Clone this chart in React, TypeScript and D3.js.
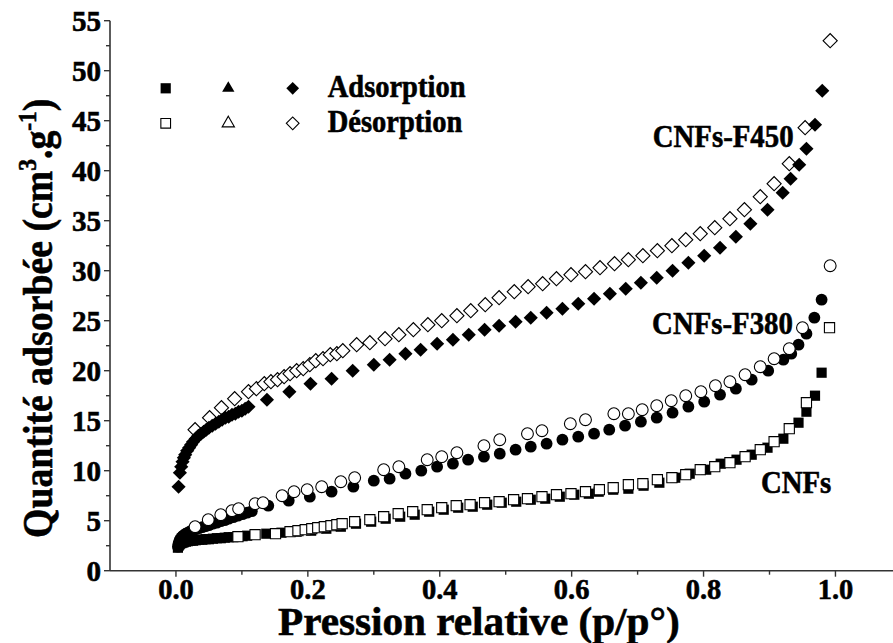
import * as d3 from "d3";

// CNFs (squares)
const cnfAdsX = [0.003, 0.004, 0.005, 0.006, 0.008, 0.010, 0.012, 0.015, 0.018, 0.022, 0.026, 0.030, 0.035, 0.040, 0.045, 0.050, 0.056, 0.062, 0.068, 0.074, 0.080, 0.087, 0.094, 0.101, 0.108,
  0.137, 0.160, 0.183, 0.205, 0.228, 0.250, 0.273, 0.296, 0.318, 0.340, 0.362, 0.384, 0.406, 0.428, 0.450, 0.472, 0.494, 0.516, 0.538, 0.560, 0.582, 0.604, 0.626, 0.641, 0.663, 0.686, 0.709, 0.733, 0.757, 0.779, 0.804, 0.826, 0.850, 0.873, 0.897, 0.921, 0.944, 0.956, 0.969, 0.979];
const cnfAdsY = [2.3, 2.5, 2.6, 2.7, 2.75, 2.8, 2.85, 2.9, 2.95, 3.0, 3.0, 3.05, 3.1, 3.1, 3.15, 3.15, 3.2, 3.25, 3.25, 3.3, 3.35, 3.35, 3.4, 3.45, 3.5,
  3.7, 3.8, 3.9, 4.0, 4.2, 4.4, 4.7, 4.9, 5.2, 5.4, 5.6, 5.9, 6.1, 6.3, 6.4, 6.6, 6.8, 6.9, 7.1, 7.2, 7.4, 7.6, 7.7, 7.9, 8.1, 8.2, 8.5, 8.8, 9.3, 9.7, 10.1, 10.7, 11.1, 11.6, 12.3, 13.2, 14.8, 15.9, 17.5, 19.8];
const cnfDesX = [0.094, 0.120, 0.151, 0.173, 0.185, 0.196, 0.206, 0.215, 0.225, 0.235, 0.244, 0.252, 0.271, 0.294, 0.315, 0.337, 0.359, 0.381, 0.403, 0.425, 0.446, 0.468, 0.490, 0.512, 0.533, 0.555, 0.577, 0.599, 0.621, 0.642, 0.663, 0.686, 0.708, 0.730, 0.752, 0.773, 0.795, 0.817, 0.840, 0.863, 0.886, 0.907, 0.930, 0.956, 0.991];
const cnfDesY = [3.4, 3.6, 3.7, 3.9, 4.0, 4.1, 4.2, 4.3, 4.4, 4.5, 4.6, 4.7, 4.9, 5.1, 5.4, 5.7, 5.9, 6.1, 6.3, 6.5, 6.6, 6.8, 6.9, 7.1, 7.2, 7.4, 7.6, 7.7, 7.9, 8.1, 8.3, 8.6, 8.7, 9.1, 9.3, 9.6, 10.1, 10.4, 10.8, 11.4, 12.1, 12.9, 14.2, 16.8, 24.3];

// CNFs-F380 (circles)
const f380AdsX = [0.003, 0.004, 0.005, 0.006, 0.008, 0.010, 0.012, 0.015, 0.018, 0.022, 0.026, 0.030, 0.035, 0.040, 0.045, 0.050, 0.056, 0.062, 0.068, 0.074, 0.080, 0.087, 0.094, 0.101, 0.108, 0.115,
  0.140, 0.171, 0.203, 0.236, 0.269, 0.300, 0.324, 0.348, 0.372, 0.396, 0.420, 0.443, 0.467, 0.491, 0.515, 0.538, 0.562, 0.586, 0.610, 0.634, 0.657, 0.681, 0.705, 0.729, 0.753, 0.777, 0.801, 0.825, 0.849, 0.873, 0.898, 0.921, 0.933, 0.944, 0.956, 0.968, 0.979];
const f380AdsY = [2.4, 2.7, 2.9, 3.1, 3.3, 3.45, 3.55, 3.7, 3.8, 3.95, 4.05, 4.15, 4.25, 4.35, 4.45, 4.55, 4.7, 4.8, 4.95, 5.05, 5.2, 5.35, 5.5, 5.65, 5.8, 5.95,
  6.5, 7.0, 7.4, 7.9, 8.4, 9.0, 9.2, 9.7, 10.0, 10.4, 10.7, 11.1, 11.4, 11.7, 12.1, 12.4, 12.7, 13.1, 13.4, 13.7, 14.1, 14.5, 14.9, 15.3, 15.8, 16.4, 16.9, 17.6, 18.2, 19.1, 20.0, 21.1, 21.7, 22.6, 23.7, 25.3, 27.1];
const f380DesX = [0.029, 0.049, 0.068, 0.085, 0.095, 0.120, 0.132, 0.161, 0.179, 0.199, 0.221, 0.250, 0.271, 0.315, 0.338, 0.381, 0.403, 0.426, 0.467, 0.491, 0.533, 0.555, 0.598, 0.621, 0.664, 0.686, 0.707, 0.729, 0.751, 0.773, 0.796, 0.818, 0.840, 0.863, 0.886, 0.907, 0.930, 0.950, 0.992];
const f380DesY = [4.4, 5.1, 5.6, 6.0, 6.2, 6.7, 6.8, 7.5, 7.9, 8.1, 8.4, 8.9, 9.3, 10.1, 10.4, 11.1, 11.4, 11.8, 12.5, 13.1, 13.7, 14.0, 14.7, 15.1, 15.7, 15.7, 16.1, 16.5, 17.0, 17.5, 17.9, 18.5, 18.9, 19.6, 20.4, 21.2, 22.2, 24.3, 30.5];

// CNFs-F450 (diamonds)
const f450AdsX = [0.004, 0.006, 0.008, 0.010, 0.012, 0.014, 0.017, 0.020, 0.023, 0.026, 0.030, 0.034, 0.038, 0.042, 0.046, 0.050, 0.055, 0.060, 0.065, 0.070, 0.075, 0.080, 0.085, 0.090, 0.095, 0.100, 0.105, 0.110,
  0.138, 0.172, 0.204, 0.236, 0.268, 0.300, 0.324, 0.348, 0.371, 0.396, 0.420, 0.444, 0.468, 0.490, 0.515, 0.538, 0.562, 0.586, 0.610, 0.634, 0.658, 0.682, 0.705, 0.729, 0.753, 0.777, 0.801, 0.825, 0.849, 0.871, 0.897, 0.920, 0.932, 0.945, 0.956, 0.969, 0.980];
const f450AdsY = [8.4, 9.8, 10.4, 10.9, 11.3, 11.6, 12.0, 12.3, 12.6, 12.9, 13.2, 13.5, 13.7, 13.9, 14.1, 14.3, 14.5, 14.7, 14.9, 15.1, 15.3, 15.4, 15.6, 15.7, 15.9, 16.0, 16.2, 16.4,
  17.1, 17.9, 18.7, 19.2, 20.0, 20.6, 21.1, 21.7, 22.1, 22.7, 23.1, 23.6, 24.1, 24.5, 24.9, 25.3, 25.8, 26.2, 26.7, 27.2, 27.7, 28.2, 28.8, 29.3, 30.0, 30.8, 31.5, 32.3, 33.4, 34.7, 36.1, 37.8, 39.2, 40.6, 42.2, 44.6, 48.0];
const f450DesX = [0.029, 0.051, 0.069, 0.089, 0.110, 0.122, 0.134, 0.144, 0.154, 0.164, 0.173, 0.183, 0.193, 0.203, 0.212, 0.223, 0.234, 0.244, 0.253, 0.274, 0.294, 0.317, 0.338, 0.360, 0.382, 0.403, 0.426, 0.447, 0.469, 0.490, 0.513, 0.534, 0.556, 0.577, 0.599, 0.621, 0.643, 0.665, 0.686, 0.708, 0.730, 0.752, 0.773, 0.795, 0.817, 0.840, 0.862, 0.886, 0.907, 0.930, 0.954, 0.992];
const f450DesY = [14.1, 15.3, 16.3, 17.2, 17.9, 18.2, 18.7, 18.9, 19.1, 19.4, 19.7, 20.0, 20.2, 20.6, 21.0, 21.2, 21.6, 21.7, 22.0, 22.6, 22.8, 23.2, 23.6, 24.1, 24.6, 25.0, 25.5, 26.0, 26.6, 27.3, 27.9, 28.4, 28.7, 29.2, 29.6, 29.9, 30.3, 30.7, 31.1, 31.5, 32.0, 32.5, 33.1, 33.7, 34.3, 35.2, 36.1, 37.4, 38.7, 40.7, 44.3, 53.0];

const xTicks = [0, 0.2, 0.4, 0.6, 0.8, 1.0];
const xMinor = [0.1, 0.3, 0.5, 0.7, 0.9];
const yTicks = [0, 5, 10, 15, 20, 25, 30, 35, 40, 45, 50, 55];
const legendRows = ["Adsorption", "Désorption"];
const curveLabels = [
  { text: "CNFs-F450", x: 0.723, y: 42.4 },
  { text: "CNFs-F380", x: 0.722, y: 23.7 },
  { text: "CNFs", x: 0.887, y: 7.8 },
];

const W = 893;
const H = 643;
const FONT = "Liberation Serif, Times New Roman, Times, serif";

const x = d3.scaleLinear().domain([-0.1, 1.1]).range([110, 901.4]);
const y = d3.scaleLinear().domain([0, 55]).range([570.7, 20.7]);

const sq = d3.symbol(d3.symbolSquare, 104)();
const circ = d3.symbol(d3.symbolCircle, 110)();
const dia = d3.symbol(d3.symbolSquare, 100)();
const tri = d3.symbol(d3.symbolTriangle, 66)();

type Shape = "square" | "circle" | "diamond" | "triangle";

function markerPath(s: Shape) {
  if (s === "square") return sq;
  if (s === "circle") return circ;
  if (s === "triangle") return tri;
  return dia;
}

function Marker({ cx, cy, shape, filled, scale = 1 }: { cx: number; cy: number; shape: Shape; filled: boolean; scale?: number }) {
  const rot = shape === "diamond" ? " rotate(45)" : "";
  return (
    <path
      d={markerPath(shape)}
      transform={`translate(${cx},${cy})${rot} scale(${scale})`}
      fill={filled ? "#000" : "#fff"}
      stroke="#000"
      strokeWidth={filled ? 0 : 1.1 / scale}
    />
  );
}

function Series({ xs, ys, shape, filled }: { xs: number[]; ys: number[]; shape: Shape; filled: boolean }) {
  return (
    <g>
      {xs.map((v, i) => (
        <Marker key={i} cx={x(v)} cy={y(ys[i])} shape={shape} filled={filled} />
      ))}
    </g>
  );
}

export default function App() {
  const x0 = x.range()[0];
  const y0 = y.range()[0];
  const yMinor = yTicks.slice(0, -1).map((t) => t + 2.5);
  const txt = { fontFamily: FONT, fontWeight: 700 } as const;
  const ink = { fill: "#000", stroke: "#000", strokeWidth: 0.6 };
  return (
    <svg width={W} height={H} style={{ position: "absolute", left: 0, top: 0, background: "#fff" }}>
      {/* axes */}
      <line x1={x0} x2={W} y1={y0} y2={y0} stroke="#333" strokeWidth={1.6} />
      <line x1={x0} x2={x0} y1={y0} y2={y(55)} stroke="#333" strokeWidth={1.6} />
      {xTicks.map((t) => (
        <g key={t}>
          <line x1={x(t)} x2={x(t)} y1={y0} y2={y0 + 6} stroke="#333" strokeWidth={1.4} />
          <text style={txt} {...ink} x={0} y={0} textAnchor="middle" fontSize={30} transform={`translate(${x(t)},599) scale(0.95,1)`}>
            {t.toFixed(1)}
          </text>
        </g>
      ))}
      {xMinor.map((t) => (
        <line key={t} x1={x(t)} x2={x(t)} y1={y0} y2={y0 + 4} stroke="#333" strokeWidth={1.4} />
      ))}
      {yTicks.map((t) => (
        <g key={t}>
          <line x1={x0 - 6} x2={x0} y1={y(t)} y2={y(t)} stroke="#333" strokeWidth={1.4} />
          <text style={txt} {...ink} x={0} y={0} textAnchor="end" fontSize={30} transform={`translate(101,${y(t) + 10}) scale(0.97,1)`}>
            {t}
          </text>
        </g>
      ))}
      {yMinor.map((t) => (
        <line key={t} x1={x0 - 4} x2={x0} y1={y(t)} y2={y(t)} stroke="#333" strokeWidth={1.4} />
      ))}

      {/* axis titles */}
      <text style={txt} {...ink} x={0} y={0} fontSize={40} transform="translate(278,635) scale(1.03,1)">
        Pression relative (p/p°)
      </text>
      <text style={txt} {...ink} x={0} y={0} fontSize={42} transform="translate(52,538) rotate(-90) scale(0.9,1)">
        Quantité adsorbée (cm
        <tspan fontSize={26} dy={-16}>3</tspan>
        <tspan dy={16}>.g</tspan>
        <tspan fontSize={26} dy={-16}>-1</tspan>
        <tspan dy={16}>)</tspan>
      </text>

      {/* data */}
      <Series xs={cnfAdsX} ys={cnfAdsY} shape="square" filled />
      <Series xs={cnfDesX} ys={cnfDesY} shape="square" filled={false} />
      <Series xs={f380AdsX} ys={f380AdsY} shape="circle" filled />
      <Series xs={f380DesX} ys={f380DesY} shape="circle" filled={false} />
      <Series xs={f450DesX} ys={f450DesY} shape="diamond" filled={false} />
      <Series xs={f450AdsX} ys={f450AdsY} shape="diamond" filled />

      {/* curve labels */}
      {curveLabels.map((l) => (
        <text style={txt} {...ink} key={l.text} x={0} y={0} fontSize={32} transform={`translate(${x(l.x)},${y(l.y)}) scale(0.9,1)`}>
          {l.text}
        </text>
      ))}

      {/* legend */}
      {legendRows.map((r, i) => {
        const ly = 88.3 + i * 35;
        const filled = i === 0;
        return (
          <g key={r}>
            <Marker cx={165.7} cy={ly} shape="square" filled={filled} scale={filled ? 1 : 0.95} />
            <Marker cx={228.3} cy={ly} shape="triangle" filled={filled} scale={1} />
            <Marker cx={292.7} cy={ly} shape="diamond" filled={filled} scale={0.9} />
            <text style={txt} {...ink} x={0} y={0} fontSize={31} transform={`translate(327.7,${ly + 8.5}) scale(0.92,1)`}>
              {r}
            </text>
          </g>
        );
      })}
    </svg>
  );
}
